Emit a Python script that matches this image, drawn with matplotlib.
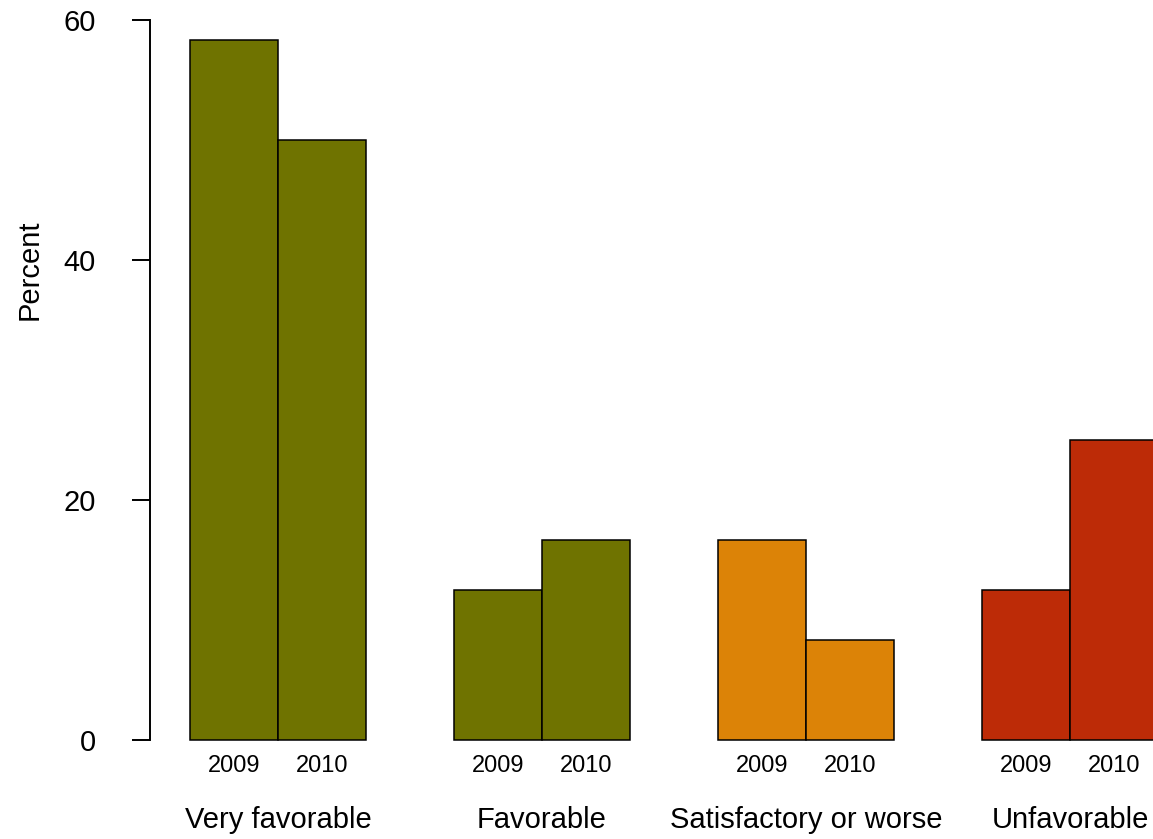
import numpy as np
import matplotlib
matplotlib.use('Agg')
import matplotlib.pyplot as plt

plt.rcParams['font.family'] = ['Liberation Sans', 'DejaVu Sans']

# dados
grupos = ['Very favorable', 'Favorable', 'Satisfactory or worse', 'Unfavorable']
anos = ['2009', '2010']
v2009 = [58.3, 12.5, 16.7, 12.5]
v2010 = [50.0, 16.7, 8.3, 25.0]
cores = ['#6f7300', '#6f7300', '#dc8307', '#bd2b07']

fig = plt.figure(figsize=(11.53, 8.39), dpi=100)
ax = fig.add_axes([150 / 1153, (839 - 768.8) / 839, (1158 - 150) / 1153, 777.6 / 839])

esquerda = np.arange(len(grupos)) * 3 + 1
for i, vals in enumerate([v2009, v2010]):
    ax.bar(esquerda + i, vals, width=1, align='edge', color=cores,
           edgecolor='black', linewidth=1.1)

ax.set_xlim(0.545, 12.0)
ax.set_ylim(-2.4, 62.4)

for s in ['top', 'right', 'bottom']:
    ax.spines[s].set_visible(False)
ax.spines['left'].set_bounds(0, 60)
ax.spines['left'].set_linewidth(1.4)
ax.set_xticks([])
ax.set_yticks([0, 20, 40, 60])
ax.tick_params(axis='y', length=13, width=1.4, pad=26, labelsize=21)

##anos e grupos
for g in range(len(grupos)):
    for i, a in enumerate(anos):
        ax.text(esquerda[g] + i + 0.5, -2.2, a, ha='center', va='center',
                fontsize=17, clip_on=False)
    ax.text(esquerda[g] + 1, -6.7, grupos[g], ha='center', va='center',
            fontsize=21, clip_on=False)

fig.text(30 / 1153, 1 - 270 / 839, 'Percent', rotation=90, ha='center',
         va='center', fontsize=21)

fig.savefig('out.png', dpi=100)
